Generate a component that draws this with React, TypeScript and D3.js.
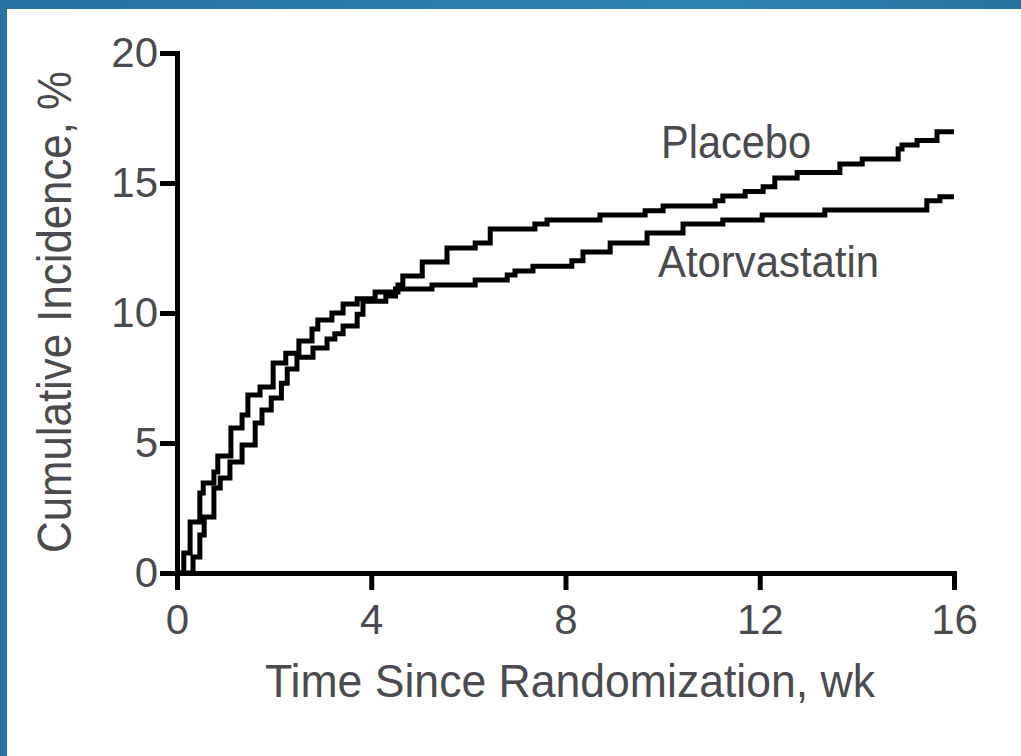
import React, { useEffect, useRef } from "react";
import * as d3 from "d3";

// cumulative incidence (%) by week
const placeboWeeks = [0, 0.14, 0.27, 0.47, 0.54, 0.76, 0.84, 1.11, 1.34, 1.46, 1.71, 1.98, 2.24, 2.51, 2.78, 2.9, 3.19, 3.42, 3.71, 4.08, 4.55, 4.65, 5.05, 5.56, 6.14, 6.45, 7.37, 7.62, 8.71, 9.64, 10.01, 11.08, 11.24, 11.7, 12.07, 12.31, 12.77, 13.65, 14.11, 14.85, 14.93, 15.24, 15.65, 16.0];
const placeboPct = [0, 0.77, 1.96, 3.08, 3.46, 3.88, 4.5, 5.58, 6.08, 6.85, 7.15, 8.08, 8.45, 8.92, 9.38, 9.73, 10.0, 10.35, 10.55, 10.81, 11.08, 11.42, 11.96, 12.5, 12.69, 13.23, 13.42, 13.58, 13.77, 13.93, 14.12, 14.32, 14.5, 14.67, 14.86, 15.19, 15.4, 15.73, 15.92, 16.31, 16.46, 16.63, 16.97, 16.97];

const atorvaWeeks = [0, 0.33, 0.47, 0.56, 0.76, 0.89, 1.09, 1.34, 1.61, 1.75, 1.94, 2.15, 2.27, 2.47, 2.8, 3.09, 3.25, 3.42, 3.71, 3.83, 4.3, 4.5, 5.25, 6.14, 6.8, 6.96, 7.33, 8.13, 8.36, 8.92, 9.68, 10.42, 11.24, 12.05, 13.34, 15.44, 15.71, 16.0];
const atorvaPct = [0, 0.62, 1.46, 2.15, 3.27, 3.65, 4.27, 4.92, 5.77, 6.27, 6.73, 7.3, 7.85, 8.3, 8.65, 9.0, 9.2, 9.5, 9.95, 10.45, 10.65, 10.92, 11.08, 11.27, 11.46, 11.62, 11.8, 12.01, 12.35, 12.69, 13.08, 13.42, 13.58, 13.77, 13.96, 14.32, 14.47, 14.47];

const xTicks = [0, 4, 8, 12, 16];
const yTicks = [0, 5, 10, 15, 20];

const seriesNames = ["Placebo", "Atorvastatin"];

const W = 1021;
const H = 756;
const FONT = "'Liberation Sans', Arial, Helvetica, sans-serif";
const TEXT = "#4a4a4f";

export default function App() {
  const ref = useRef<SVGSVGElement>(null);

  useEffect(() => {
    const svg = d3.select(ref.current);
    svg.selectAll("*").remove();

    // frame
    const grad = svg.append("defs").append("linearGradient")
      .attr("id", "frame")
      .attr("x1", "0").attr("x2", "1").attr("y1", "0").attr("y2", "0");
    grad.append("stop").attr("offset", "0").attr("stop-color", "#2571a0");
    grad.append("stop").attr("offset", "0.7").attr("stop-color", "#2f84b1");
    grad.append("stop").attr("offset", "1").attr("stop-color", "#27729e");

    svg.append("rect").attr("width", W).attr("height", H).attr("fill", "#fff");
    svg.append("rect").attr("x", 0).attr("y", 0).attr("width", W).attr("height", 9).attr("fill", "url(#frame)");
    svg.append("rect").attr("x", 0).attr("y", 0).attr("width", 7).attr("height", H).attr("fill", "#2873a1");

    const x = d3.scaleLinear().domain([0, 16]).range([177, 954]);
    const y = d3.scaleLinear().domain([0, 20]).range([573, 53]);

    // axes
    const yAxis = d3.axisLeft(y).tickValues(yTicks).tickSize(17).tickSizeOuter(0).tickPadding(2);
    const xAxis = d3.axisBottom(x).tickValues(xTicks).tickSize(17).tickSizeOuter(0).tickPadding(14);

    const gy = svg.append("g").attr("transform", `translate(${x(0)},0)`).call(yAxis);
    const gx = svg.append("g").attr("transform", `translate(0,${y(0)})`).call(xAxis);

    [gx, gy].forEach(g => {
      g.select(".domain").attr("stroke", "#000").attr("stroke-width", 5).attr("stroke-linecap", "square");
      g.selectAll(".tick line").attr("stroke", "#000").attr("stroke-width", 5);
      g.selectAll(".tick text")
        .attr("fill", TEXT)
        .attr("font-family", FONT)
        .attr("font-size", 42);
    });

    // curves
    const line = d3.line<[number, number]>()
      .x(d => x(d[0]))
      .y(d => y(d[1]))
      .curve(d3.curveStepAfter);

    const placebo = placeboWeeks.map((w, i) => [w, placeboPct[i]] as [number, number]);
    const atorva = atorvaWeeks.map((w, i) => [w, atorvaPct[i]] as [number, number]);

    svg.selectAll(".km")
      .data([placebo, atorva])
      .enter()
      .append("path")
      .attr("class", "km")
      .attr("d", d => line(d))
      .attr("fill", "none")
      .attr("stroke", "#000")
      .attr("stroke-width", 5)
      .attr("stroke-linejoin", "miter");

    // curve labels
    svg.append("text")
      .attr("x", 661).attr("y", 158)
      .attr("font-family", FONT).attr("font-size", 46).attr("fill", TEXT)
      .attr("textLength", 150).attr("lengthAdjust", "spacingAndGlyphs")
      .text(seriesNames[0]);

    svg.append("text")
      .attr("x", 658).attr("y", 277)
      .attr("font-family", FONT).attr("font-size", 44).attr("fill", TEXT)
      .attr("textLength", 221).attr("lengthAdjust", "spacingAndGlyphs")
      .text(seriesNames[1]);

    // axis titles
    svg.append("text")
      .attr("x", 265).attr("y", 697)
      .attr("font-family", FONT).attr("font-size", 47).attr("fill", TEXT)
      .attr("textLength", 610).attr("lengthAdjust", "spacingAndGlyphs")
      .text("Time Since Randomization, wk");

    svg.append("text")
      .attr("transform", "translate(71,553) rotate(-90)")
      .attr("font-family", FONT).attr("font-size", 48).attr("fill", TEXT)
      .attr("textLength", 482).attr("lengthAdjust", "spacingAndGlyphs")
      .text("Cumulative Incidence, %");
  }, []);

  return (
    <svg
      ref={ref}
      width={W}
      height={H}
      style={{ position: "absolute", left: 0, top: 0, display: "block" }}
    />
  );
}
